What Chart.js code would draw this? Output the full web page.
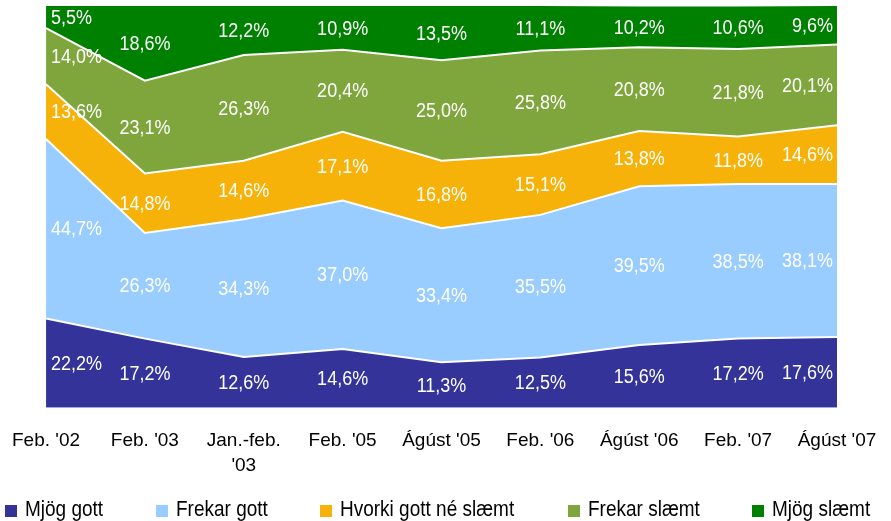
<!DOCTYPE html>
<html>
<head>
<meta charset="utf-8">
<script src="https://cdn.jsdelivr.net/npm/chart.js@4.4.0/dist/chart.umd.min.js"></script>
<style>
  html, body { margin: 0; padding: 0; background: #fff; }
  #wrap { width: 891px; height: 521px; }
</style>
</head>
<body>
<div id="wrap"><canvas id="graf"></canvas></div>
<script>
// Gögn
const timabil = ["Feb. '02", "Feb. '03", ["Jan.-feb.", "'03"], "Feb. '05", "Ágúst '05", "Feb. '06", "Ágúst '06", "Feb. '07", "Ágúst '07"];
const mjogGott     = [22.2, 17.2, 12.6, 14.6, 11.3, 12.5, 15.6, 17.2, 17.6];
const frekarGott   = [44.7, 26.3, 34.3, 37.0, 33.4, 35.5, 39.5, 38.5, 38.1];
const hvorki       = [13.6, 14.8, 14.6, 17.1, 16.8, 15.1, 13.8, 11.8, 14.6];
const frekarSlaemt = [14.0, 23.1, 26.3, 20.4, 25.0, 25.8, 20.8, 21.8, 20.1];
const mjogSlaemt   = [5.5, 18.6, 12.2, 10.9, 13.5, 11.1, 10.2, 10.6, 9.6];

const heiti = ['Mjög gott', 'Frekar gott', 'Hvorki gott né slæmt', 'Frekar slæmt', 'Mjög slæmt'];
const litir = ['#333399', '#99ccff', '#f7b209', '#7fa63c', '#008000'];
const gildi = [mjogGott, frekarGott, hvorki, frekarSlaemt, mjogSlaemt];

const letur = "'Liberation Sans', Arial, sans-serif";

// texti teygður aðeins á hæðina eins og í fyrirmyndinni
function teygdurTexti(ctx, t, x, y) {
  ctx.save();
  ctx.translate(x, y);
  ctx.scale(1, 1.15);
  ctx.fillText(t, 0, 0);
  ctx.restore();
}

// Prósentutölur inni í svæðunum
const merkingar = {
  id: 'merkingar',
  afterDatasetsDraw(chart) {
    const ctx = chart.ctx;
    const y0 = chart.scales.y.getPixelForValue(0);
    ctx.save();
    ctx.font = '18px ' + letur;
    ctx.fillStyle = '#fff';
    ctx.textBaseline = 'middle';
    chart.data.datasets.forEach((ds, d) => {
      const meta = chart.getDatasetMeta(d);
      const undir = d > 0 ? chart.getDatasetMeta(d - 1) : null;
      meta.data.forEach((pt, i) => {
        const botn = undir ? undir.data[i].y : y0;
        const y = (pt.y + botn) / 2;
        let x = pt.x;
        if (i === 0) { ctx.textAlign = 'left'; x += 5; }
        else if (i === meta.data.length - 1) { ctx.textAlign = 'right'; x -= 4; }
        else ctx.textAlign = 'center';
        teygdurTexti(ctx, ds.data[i].toFixed(1).replace('.', ',') + '%', x, y + 1);
      });
    });
    ctx.restore();
  }
};

// Skýringar neðst
const skyringar = {
  id: 'skyringar',
  afterDraw(chart) {
    const ctx = chart.ctx;
    const stadir = [5, 156, 320, 568, 752];
    ctx.save();
    ctx.font = '19px ' + letur;
    ctx.textBaseline = 'middle';
    ctx.textAlign = 'left';
    chart.data.datasets.forEach((ds, d) => {
      ctx.fillStyle = ds.backgroundColor;
      ctx.fillRect(stadir[d], 505, 12, 12);
      ctx.fillStyle = '#000';
      teygdurTexti(ctx, ds.label, stadir[d] + 20, 510);
    });
    ctx.restore();
  }
};

const ctx = document.getElementById('graf').getContext('2d');
new Chart(ctx, {
  type: 'line',
  data: {
    labels: timabil,
    datasets: gildi.map((g, d) => ({
      label: heiti[d],
      data: g,
      backgroundColor: litir[d],
      borderColor: '#fff',
      borderWidth: d === 4 ? 0 : 2,
      fill: d === 0 ? 'origin' : '-1',
      pointRadius: 0,
      tension: 0
    }))
  },
  options: {
    responsive: true,
    maintainAspectRatio: false,
    animation: false,
    layout: { padding: { left: 43, right: 54, top: 6, bottom: 30 } },
    plugins: {
      legend: { display: false },
      tooltip: { enabled: false }
    },
    scales: {
      x: {
        offset: false,
        grid: { display: false },
        border: { display: false },
        ticks: {
          color: '#000',
          padding: 12,
          maxRotation: 0,
          autoSkip: false,
          font: { family: letur, size: 19, lineHeight: 1.35 }
        }
      },
      y: {
        display: false,
        stacked: true,
        min: 0,
        max: 100
      }
    }
  },
  plugins: [merkingar, skyringar]
});
</script>
</body>
</html>
